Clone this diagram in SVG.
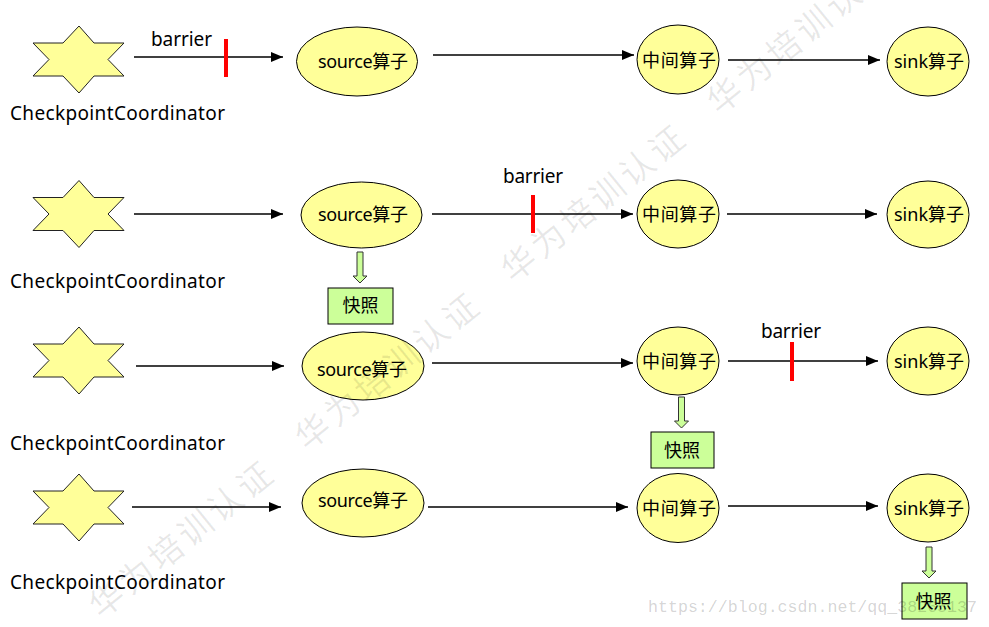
<svg xmlns="http://www.w3.org/2000/svg" width="989" height="627" viewBox="0 0 989 627">
<style>
.bg{fill:#ffffff}
.op{fill:#ffff99;stroke:#000;stroke-width:1}
.star{fill:#ffff99;stroke:#222;stroke-width:1}
.lbl{font-family:"Noto Sans","Noto Sans CJK SC",sans-serif;font-size:18px;fill:#000;text-anchor:middle}
.cc{font-family:"Noto Sans",sans-serif;font-size:19px;fill:#000}
.bar{font-family:"Noto Sans",sans-serif;font-size:19px;fill:#000}
.edge{stroke:#000;stroke-width:1.6;fill:none;marker-end:url(#ah)}
.red{stroke:#ff0000;stroke-width:4}
.snap{fill:#ccff99;stroke:#000;stroke-width:1}
.sarr{fill:#ccff99;stroke:#333;stroke-width:1}
.wm{font-family:"Noto Sans CJK SC",sans-serif;font-size:34px;fill:#000;fill-opacity:0.09}
.url{font-family:"Liberation Mono",monospace;font-size:17px;fill:#000;fill-opacity:0.18}
</style>
<defs>
<marker id="ah" viewBox="0 0 12 10" markerWidth="12" markerHeight="10" refX="12" refY="5" orient="auto" markerUnits="userSpaceOnUse">
<path d="M0,0 L12,5 L0,10 z" fill="#000"/>
</marker>
<polygon id="starShape" points="79,26 94,43 124,43 108,59.5 124,76 94,76 79,93 63,76 33,76 49,59.5 33,43 63,43"/>
</defs>
<rect class="bg" x="0" y="0" width="989" height="627"/>

<g id="connectors">
<line class="edge" x1="134" y1="57" x2="283" y2="57"/>
<line class="edge" x1="433" y1="55" x2="634" y2="55"/>
<line class="edge" x1="728" y1="60" x2="880" y2="60"/>
<line class="edge" x1="134" y1="214" x2="283" y2="214"/>
<line class="edge" x1="432" y1="214" x2="633" y2="214"/>
<line class="edge" x1="727" y1="214" x2="877" y2="214"/>
<line class="edge" x1="136" y1="366" x2="284" y2="366"/>
<line class="edge" x1="432" y1="363" x2="633" y2="363"/>
<line class="edge" x1="728" y1="361" x2="878" y2="361"/>
<line class="edge" x1="132" y1="507" x2="281" y2="507"/>
<line class="edge" x1="428" y1="507" x2="628" y2="507"/>
<line class="edge" x1="728" y1="506" x2="878" y2="506"/>
<polygon class="sarr" points="357,252 363,252 363,276 367,276 360,283 353,276 357,276"/>
<polygon class="sarr" points="678.5,397 684.5,397 684.5,421 688.5,421 681.5,428 674.5,421 678.5,421"/>
<polygon class="sarr" points="926,547 932,547 932,571 936,571 929,578 922,571 926,571"/>
</g>

<g id="barriers">
<text class="bar" x="151" y="46" textLength="61">barrier</text>
<line class="red" x1="226" y1="39" x2="226" y2="77"/>
<text class="bar" x="503" y="183" textLength="60">barrier</text>
<line class="red" x1="533" y1="195" x2="533" y2="233"/>
<text class="bar" x="761" y="338" textLength="60">barrier</text>
<line class="red" x1="792" y1="342" x2="792" y2="381"/>
</g>

<g id="row1">
<g id="cc1"><use href="#starShape" class="star"/><text class="cc" x="10" y="120" textLength="215">CheckpointCoordinator</text></g>
<g id="source1"><ellipse class="op" cx="357" cy="61.5" rx="60.5" ry="34.5"/><text class="lbl" x="363" y="68" textLength="90">source算子</text></g>
<g id="mid1"><ellipse class="op" cx="678" cy="59.5" rx="41" ry="34.5"/><text class="lbl" x="679" y="67" textLength="74">中间算子</text></g>
<g id="sink1"><ellipse class="op" cx="928" cy="61.5" rx="41" ry="34.5"/><text class="lbl" x="929" y="68" textLength="70">sink算子</text></g>
</g>

<g id="row2">
<g id="cc2"><use href="#starShape" class="star" transform="translate(0,154.5)"/><text class="cc" x="10" y="288" textLength="215">CheckpointCoordinator</text></g>
<g id="source2"><ellipse class="op" cx="361.5" cy="215" rx="60.5" ry="33"/><text class="lbl" x="363" y="221" textLength="90">source算子</text></g>
<g id="mid2"><ellipse class="op" cx="678" cy="214" rx="41" ry="34"/><text class="lbl" x="679" y="221" textLength="74">中间算子</text></g>
<g id="sink2"><ellipse class="op" cx="928" cy="214.5" rx="41" ry="33.5"/><text class="lbl" x="929" y="221" textLength="70">sink算子</text></g>
<g id="snap2"><rect class="snap" x="328" y="288" width="65" height="36"/><text class="lbl" x="360.5" y="312" textLength="36">快照</text></g>
</g>

<g id="row3">
<g id="cc3"><use href="#starShape" class="star" transform="translate(0,301)"/><text class="cc" x="10" y="450" textLength="215">CheckpointCoordinator</text></g>
<g id="source3"><ellipse class="op" cx="363" cy="366" rx="61" ry="34"/><text class="lbl" x="362" y="376" textLength="90">source算子</text></g>
<g id="mid3"><ellipse class="op" cx="678" cy="361" rx="41" ry="34"/><text class="lbl" x="679" y="368" textLength="74">中间算子</text></g>
<g id="sink3"><ellipse class="op" cx="928" cy="361" rx="41" ry="34"/><text class="lbl" x="929" y="368" textLength="70">sink算子</text></g>
<g id="snap3"><rect class="snap" x="651" y="432" width="63" height="36"/><text class="lbl" x="682" y="457" textLength="36">快照</text></g>
</g>

<g id="row4">
<g id="cc4"><use href="#starShape" class="star" transform="translate(0,448)"/><text class="cc" x="10" y="589" textLength="215">CheckpointCoordinator</text></g>
<g id="source4"><ellipse class="op" cx="363" cy="503" rx="61" ry="34"/><text class="lbl" x="363" y="507" textLength="90">source算子</text></g>
<g id="mid4"><ellipse class="op" cx="678" cy="508" rx="41" ry="34.5"/><text class="lbl" x="679" y="515" textLength="74">中间算子</text></g>
<g id="sink4"><ellipse class="op" cx="928" cy="508" rx="41" ry="34"/><text class="lbl" x="929" y="515" textLength="70">sink算子</text></g>
<g id="snap4"><rect class="snap" x="902" y="583" width="65" height="36"/><text class="lbl" x="933.5" y="608" textLength="36">快照</text></g>
</g>

<g id="watermark">
<text class="wm" transform="translate(107,600) rotate(-39)" x="-17" y="12" textLength="224" lengthAdjust="spacing">华为培训认证</text>
<text class="wm" transform="translate(313,432) rotate(-39)" x="-17" y="12" textLength="224" lengthAdjust="spacing">华为培训认证</text>
<text class="wm" transform="translate(519,264) rotate(-39)" x="-17" y="12" textLength="224" lengthAdjust="spacing">华为培训认证</text>
<text class="wm" transform="translate(725,96) rotate(-39)" x="-17" y="12" textLength="224" lengthAdjust="spacing">华为培训认证</text>
<text class="url" x="648" y="612" textLength="329" lengthAdjust="spacingAndGlyphs">https://blog.csdn.net/qq_38265137</text>
</g>
</svg>
